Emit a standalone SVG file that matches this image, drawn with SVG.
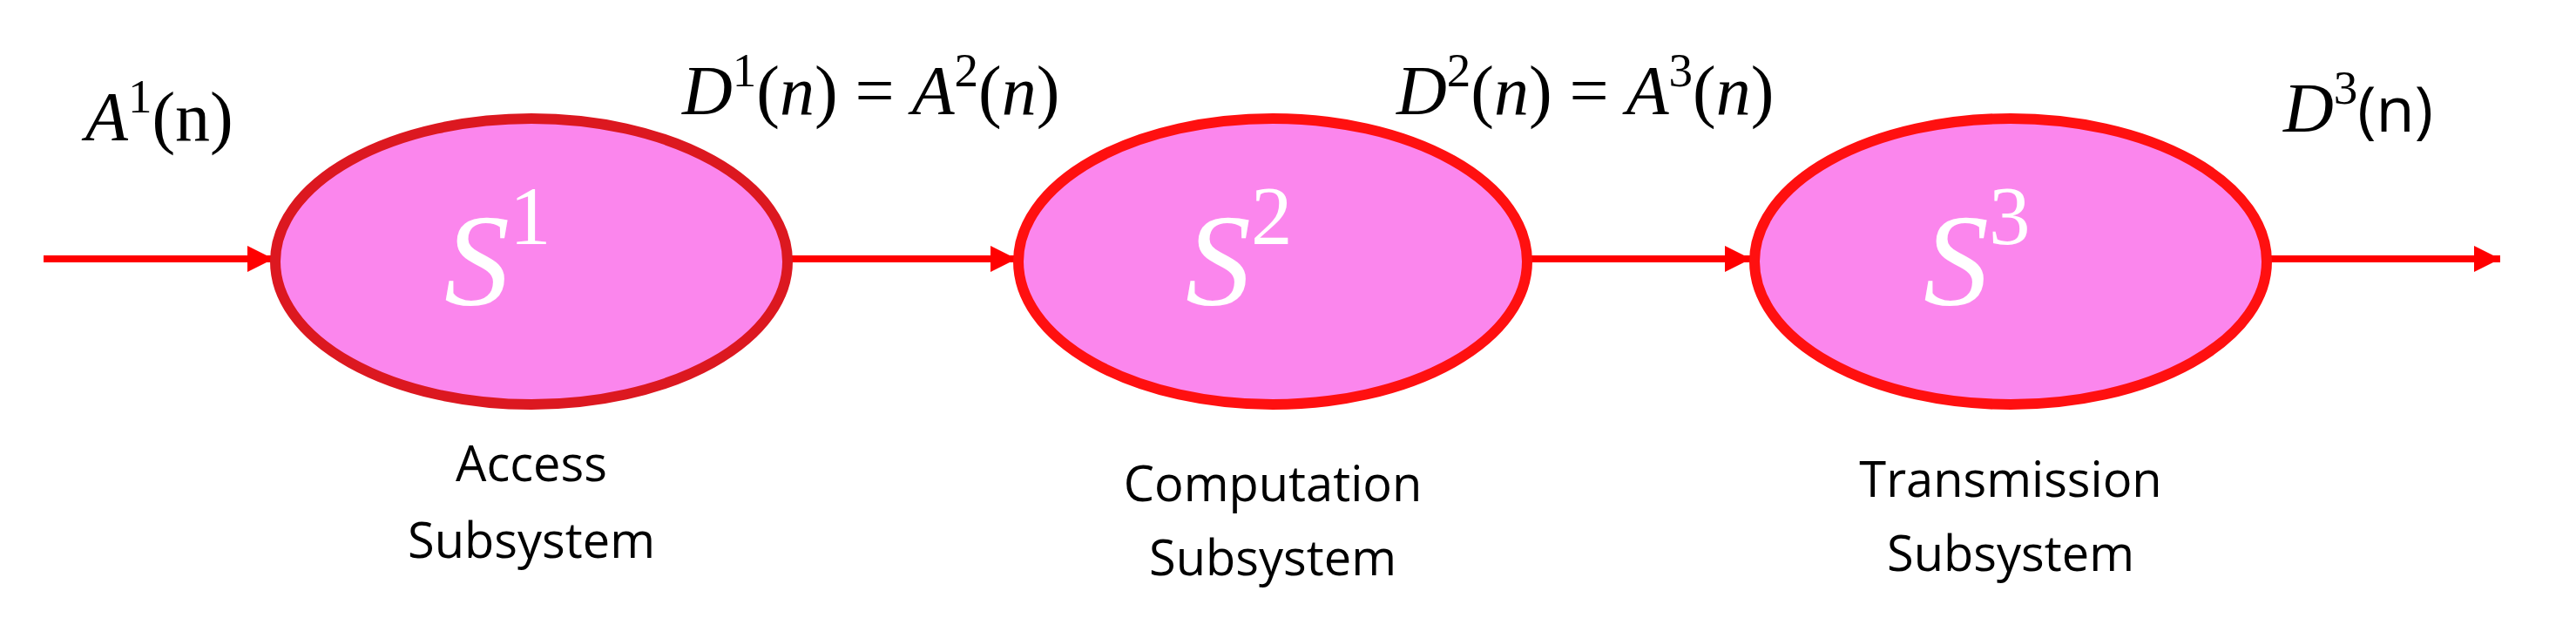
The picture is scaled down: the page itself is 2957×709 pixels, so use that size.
<svg xmlns="http://www.w3.org/2000/svg" width="2957" height="709" viewBox="0 0 2957 709">
<defs>
<marker id="ah" markerUnits="userSpaceOnUse" markerWidth="32" markerHeight="30" refX="30" refY="15" orient="auto"><path d="M0,0 L30,15 L0,30 Z" fill="#ff0000"/></marker>
<style>
.node{fill:#fb86ed;stroke:#ff1010;stroke-width:12}
.c{stroke:#ff0000;stroke-width:8;fill:none;marker-end:url(#ah)}
.m{font-family:"Liberation Serif",serif;font-style:italic;font-size:80px;fill:#000}
.u{font-family:"Liberation Serif",serif;font-size:80px;fill:#000}
.s{font-family:"Liberation Serif",serif;font-style:italic;font-size:150px;fill:#fff}
.l{font-family:"Open Sans",sans-serif;font-size:56px;fill:#000;text-anchor:middle}
</style>
</defs>
<g id="connectors">
<line class="c" x1="50" y1="297" x2="314" y2="297"/>
<line class="c" x1="904" y1="297" x2="1167" y2="297"/>
<line class="c" x1="1753" y1="297" x2="2010" y2="297"/>
<line class="c" x1="2603" y1="297" x2="2870" y2="297"/>
</g>
<g id="n1"><ellipse class="node" cx="610" cy="300" rx="294" ry="164" style="stroke:#dc1820"/>
<text class="s" x="510" y="350">S<tspan font-size="95" font-style="normal" dy="-70">1</tspan></text>
<text class="l" x="610" y="552">Access</text><text class="l" x="610" y="640">Subsystem</text></g>
<g id="n2"><ellipse class="node" cx="1461" cy="300" rx="292" ry="164"/>
<text class="s" x="1361" y="350">S<tspan font-size="95" font-style="normal" dy="-70">2</tspan></text>
<text class="l" x="1461" y="575">Computation</text><text class="l" x="1461" y="660">Subsystem</text></g>
<g id="n3"><ellipse class="node" cx="2308" cy="300" rx="294" ry="164"/>
<text class="s" x="2208" y="350">S<tspan font-size="95" font-style="normal" dy="-70">3</tspan></text>
<text class="l" x="2308" y="570">Transmission</text><text class="l" x="2308" y="655">Subsystem</text></g>
<g id="labels">
<text class="m" x="98" y="161">A<tspan font-style="normal" font-size="55" dy="-32">1</tspan><tspan class="u" font-style="normal" font-family="Open Sans, sans-serif" font-size="72" dy="32">(n)</tspan></text>
<text class="m" x="783" y="131">D<tspan font-style="normal" font-size="55" dy="-32">1</tspan><tspan dy="32" font-style="normal">(</tspan>n<tspan font-style="normal">) = </tspan>A<tspan font-style="normal" font-size="55" dy="-32">2</tspan><tspan dy="32" font-style="normal">(</tspan>n<tspan font-style="normal">)</tspan></text>
<text class="m" x="1603" y="131">D<tspan font-style="normal" font-size="55" dy="-32">2</tspan><tspan dy="32" font-style="normal">(</tspan>n<tspan font-style="normal">) = </tspan>A<tspan font-style="normal" font-size="55" dy="-32">3</tspan><tspan dy="32" font-style="normal">(</tspan>n<tspan font-style="normal">)</tspan></text>
<text class="m" x="2621" y="151">D<tspan font-style="normal" font-size="55" dy="-32">3</tspan><tspan font-style="normal" font-family="Open Sans, sans-serif" font-size="72" dy="32">(n)</tspan></text>
</g>
</svg>
